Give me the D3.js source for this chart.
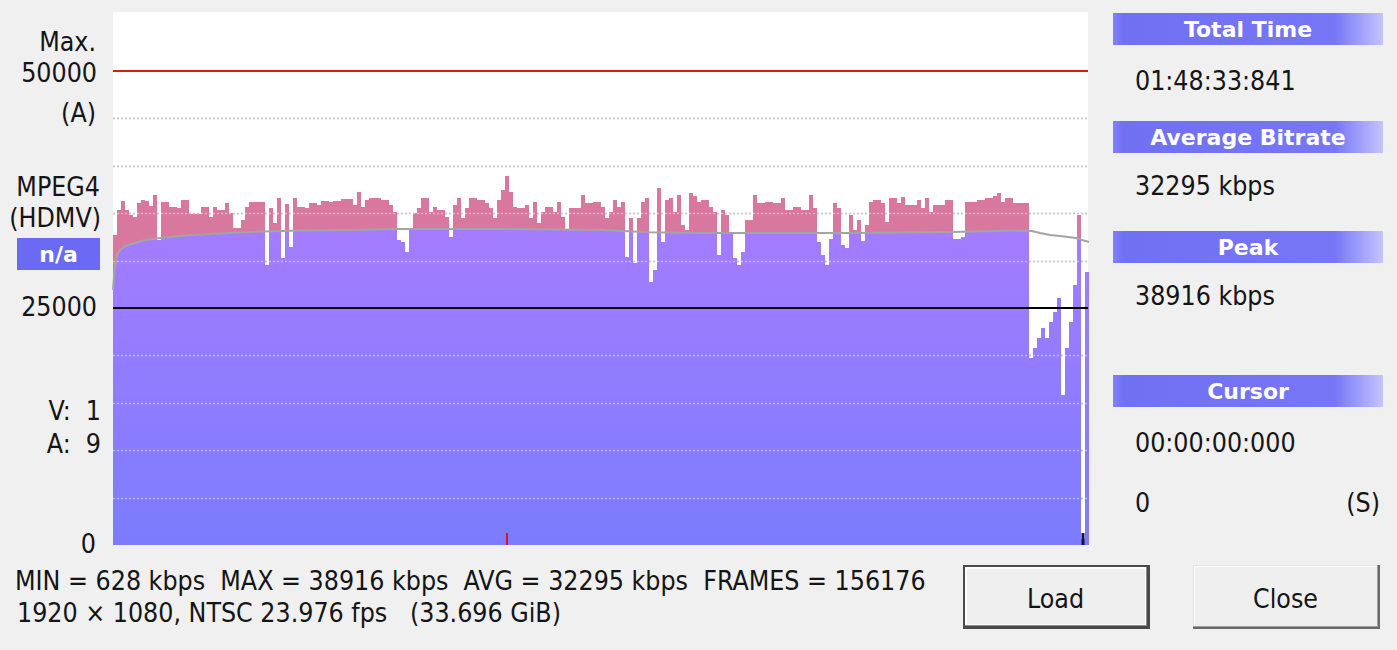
<!DOCTYPE html>
<html><head><meta charset="utf-8">
<script src="https://cdn.jsdelivr.net/npm/d3@7"></script>
<style>
html,body{margin:0;padding:0;background:#f0f0f0;}
svg{display:block;}
text{font-family:'DejaVu Sans Condensed','DejaVu Sans',sans-serif;font-stretch:condensed;}
text.bold{font-family:'DejaVu Sans',sans-serif;font-stretch:normal;font-weight:bold;}
</style></head>
<body>
<svg id="c" width="1397" height="650"></svg>
<script>
// ---- data (kbps per time slice) ----
const bitrate = [
32700,35300,36300,35300,34800,34600,36100,36400,36300,35800,
36900,32200,36200,36200,35650,35650,35550,36400,36400,34900,
34900,34900,35650,35650,34600,35650,35300,35300,36100,35000,
33440,33440,34280,35650,36200,36200,36200,36200,29540,35600,
33960,36600,30280,36000,31440,36600,35650,35650,35500,36080,
36080,35900,36300,36300,36200,36300,36300,36500,36500,36500,
35860,37240,35650,36400,36600,36600,36600,36400,36400,35860,
35130,32170,31960,30900,33230,35020,35550,36600,36600,35130,
35650,35340,35340,34600,32500,35860,36600,34500,35550,36600,
36600,36400,36400,36080,35550,34500,36400,37500,38916,37240,
35650,35550,35550,35860,34500,36200,33970,35130,35650,35650,
35130,36200,34600,33200,35550,35550,35550,36900,36080,36080,
36200,36200,35650,34500,35130,36400,35650,36200,30380,34500,
29750,34500,36200,36600,27740,29010,37660,31960,36400,36600,
35130,36900,33760,33230,37130,36800,36200,36400,36400,35650,
35130,30600,35340,34800,32900,30280,29540,30900,34280,34280,
36900,36080,36080,36200,36200,36080,36080,36600,35340,35340,
35650,35650,35340,35340,36900,35550,31960,30600,29540,32300,
36080,35550,31650,31330,34800,33230,34280,32100,33760,36200,
36400,36400,36080,34070,36600,36600,36080,36700,35860,35860,
35860,36400,35550,36600,35130,35860,35860,35860,36400,36400,
32300,32300,32500,36200,36200,36200,36400,36400,36600,36600,
36800,37130,36200,36600,36600,36080,36080,36080,36080,19730,
20780,21840,22890,21840,23520,24580,26060,15820,20780,23500,
27430,34800,628,28800
];
// running average curve: slice position -> kbps
const avgPos = [0,0.5,1,1.75,3,5.5,8,11.75,16.75,24.25,34.25,46.75,59.25,71.75,96.75,121.75,134.25,146.75,184.25,209.25,221.75,228,229.75,231.75,234.25,236.75,238.75,240.75,242.25,244];
const avgVal = [26900,29540,30600,31120,31540,31860,32170,32390,32600,32800,33020,33180,33230,33330,33330,33230,33000,32910,32910,33020,33120,33180,33120,32910,32700,32600,32500,32390,32170,31960];
const gridValues = [5000,10000,15000,20000,30000,35000,40000,45000];
const maxLine = 50000, midLine = 25000;
const leftLabels = ["Max.","50000","(A)","MPEG4","(HDMV)","25000","V:  1","A:  9","0"];
const codecBadge = "n/a";
const panelTitles = ["Total Time","Average Bitrate","Peak","Cursor"];
const panelValues = ["01:48:33:841","32295 kbps","38916 kbps","00:00:00:000"];
const cursorFrame = "0", cursorUnit = "(S)";
const statLine1 = "MIN = 628 kbps  MAX = 38916 kbps  AVG = 32295 kbps  FRAMES = 156176";
const statLine2 = "1920 \u00d7 1080, NTSC 23.976 fps   (33.696 GiB)";
const buttons = ["Load","Close"];

// ---- layout ----
const svg = d3.select("#c");
const P = {l:113, r:1088, t:12, b:545};
const N = bitrate.length;
const x = d3.scaleLinear().domain([0,N]).range([P.l,P.r+1]);
const y = d3.scaleLinear().domain([0,50000]).range([P.b,71]);
const avgAt = d3.scaleLinear().domain(avgPos).range(avgVal).clamp(true);

const defs = svg.append("defs");
const pg = defs.append("linearGradient").attr("id","purp").attr("gradientUnits","userSpaceOnUse")
  .attr("x1",0).attr("x2",0).attr("y1",200).attr("y2",P.b);
pg.append("stop").attr("offset","0").attr("stop-color","#a87cff");
pg.append("stop").attr("offset","1").attr("stop-color","#7b7cfd");
const hg = defs.append("linearGradient").attr("id","hdr").attr("x1",0).attr("x2",1).attr("y1",0).attr("y2",0);
hg.append("stop").attr("offset","0").attr("stop-color","#8282f6");
hg.append("stop").attr("offset","0.04").attr("stop-color","#7070f2");
hg.append("stop").attr("offset","0.82").attr("stop-color","#7676f6");
hg.append("stop").attr("offset","1").attr("stop-color","#c4c4ff");

svg.append("rect").attr("width",1397).attr("height",650).attr("fill","#f0f0f0");
svg.append("rect").attr("x",P.l).attr("y",P.t).attr("width",P.r-P.l).attr("height",P.b-P.t).attr("fill","#fff");

// grid under
svg.append("g").selectAll("line").data(gridValues).join("line")
  .attr("x1",P.l).attr("x2",P.r).attr("y1",d=>Math.round(y(d))+0.5).attr("y2",d=>Math.round(y(d))+0.5)
  .attr("stroke","#9a9a9a").attr("stroke-width",1.3).attr("stroke-dasharray","2,2");

// bars
const bars = svg.append("g").attr("shape-rendering","crispEdges");
bitrate.forEach((v,i)=>{
  const g = avgAt(i+0.5);
  const x0 = x(i), w = x(i+1)-x(i)+0.4;
  const low = Math.min(v,g);
  bars.append("rect").attr("x",x0).attr("width",w).attr("y",y(low)).attr("height",y(0)-y(low)).attr("fill","url(#purp)");
  if(v>g) bars.append("rect").attr("x",x0).attr("width",w).attr("y",y(v)).attr("height",y(g)-y(v)).attr("fill","#d9789f");
});

// grid overlay (light dots over bars)
svg.append("g").selectAll("line").data(gridValues).join("line")
  .attr("x1",P.l).attr("x2",P.r).attr("y1",d=>Math.round(y(d))+0.5).attr("y2",d=>Math.round(y(d))+0.5)
  .attr("stroke","rgba(255,255,255,0.45)").attr("stroke-width",1.3).attr("stroke-dasharray","2,2");

// running average line
svg.append("path").datum(avgPos.map((p,k)=>[p,avgVal[k]]))
  .attr("d",d3.line().x(d=>x(d[0])).y(d=>y(d[1])))
  .attr("fill","none").attr("stroke","#a4a4a4").attr("stroke-width",2);

// reference lines
svg.append("line").attr("x1",P.l).attr("x2",P.r).attr("y1",y(maxLine)).attr("y2",y(maxLine)).attr("stroke","#e01818").attr("stroke-width",2);
svg.append("line").attr("x1",P.l).attr("x2",P.r).attr("y1",y(midLine)).attr("y2",y(midLine)).attr("stroke","#000").attr("stroke-width",2);

// peak & min markers
const peakI = d3.maxIndex(bitrate), minI = d3.minIndex(bitrate);
svg.append("rect").attr("x",x(peakI+0.5)-1).attr("y",P.b-12).attr("width",2).attr("height",12).attr("fill","#e01030");
svg.append("rect").attr("x",x(minI+0.5)-1.5).attr("y",P.b-12).attr("width",3).attr("height",12).attr("fill","#14143c");

// left labels
const fs = 26.5;
const lblY = [41,72,112,186,217,306,410,443,543];
const lblX = [96,97,96,100,101,97,101,101,96];
svg.append("g").selectAll("text").data(leftLabels).join("text")
  .attr("x",(d,i)=>lblX[i]).attr("y",(d,i)=>lblY[i]).attr("dy","0.36em")
  .attr("text-anchor","end").attr("font-size",fs).attr("fill","#151515")
  .attr("xml:space","preserve").text(d=>d);
svg.append("rect").attr("x",17).attr("y",238).attr("width",83).attr("height",32).attr("fill","#6a6af4");
svg.append("text").attr("class","bold").attr("x",58.5).attr("y",254).attr("dy","0.36em").attr("text-anchor","middle")
  .attr("font-size",22).attr("fill","#fff").text(codecBadge);

// right panels
const hdrY = [13,121,231,375];
const valY = [80,185,295,442];
panelTitles.forEach((t,i)=>{
  svg.append("rect").attr("x",1113).attr("y",hdrY[i]).attr("width",270).attr("height",32).attr("fill","url(#hdr)");
  svg.append("text").attr("class","bold").attr("x",1248).attr("y",hdrY[i]+16).attr("dy","0.36em").attr("text-anchor","middle")
    .attr("font-size",22).attr("fill","#fff").text(t);
  svg.append("text").attr("x",1135).attr("y",valY[i]).attr("dy","0.36em")
    .attr("font-size",fs).attr("fill","#151515").text(panelValues[i]);
});
svg.append("text").attr("x",1135).attr("y",502).attr("dy","0.36em").attr("font-size",fs).attr("fill","#151515").text(cursorFrame);
svg.append("text").attr("x",1380).attr("y",502).attr("dy","0.36em").attr("text-anchor","end").attr("font-size",fs).attr("fill","#151515").text(cursorUnit);

// bottom stats
svg.append("text").attr("x",15).attr("y",580).attr("dy","0.36em").attr("font-size",fs).attr("fill","#151515")
  .attr("xml:space","preserve").text(statLine1);
svg.append("text").attr("x",17).attr("y",612).attr("dy","0.36em").attr("font-size",fs).attr("fill","#151515")
  .attr("xml:space","preserve").text(statLine2);

// buttons
const btnX = [963,1193], btnW = [187,187];
buttons.forEach((b,i)=>{
  const bx = btnX[i], by = 565, bw = btnW[i], bh = 64;
  const g = svg.append("g").attr("shape-rendering","crispEdges");
  if(i===0){
    g.append("rect").attr("x",bx).attr("y",by).attr("width",bw).attr("height",bh).attr("fill","#4a4a4a");
    g.append("rect").attr("x",bx+2).attr("y",by+2).attr("width",bw-5).attr("height",bh-5).attr("fill","#8a8a8a");
    g.append("rect").attr("x",bx+2).attr("y",by+2).attr("width",bw-6).attr("height",bh-6).attr("fill","#fcfcfc");
    g.append("rect").attr("x",bx+4).attr("y",by+4).attr("width",bw-9).attr("height",bh-9).attr("fill","#efefef");
  } else {
    g.append("rect").attr("x",bx).attr("y",by).attr("width",bw).attr("height",bh).attr("fill","#696969");
    g.append("rect").attr("x",bx).attr("y",by).attr("width",bw-2).attr("height",bh-2).attr("fill","#a0a0a0");
    g.append("rect").attr("x",bx).attr("y",by).attr("width",bw-3).attr("height",bh-3).attr("fill","#e3e3e3");
    g.append("rect").attr("x",bx+1).attr("y",by+1).attr("width",bw-4).attr("height",bh-4).attr("fill","#fcfcfc");
    g.append("rect").attr("x",bx+2).attr("y",by+2).attr("width",bw-5).attr("height",bh-5).attr("fill","#efefef");
  }
  svg.append("text").attr("x",bx+bw/2-1).attr("y",598).attr("dy","0.36em").attr("text-anchor","middle")
    .attr("font-size",fs).attr("fill","#151515").text(b);
});
</script>
</body></html>
